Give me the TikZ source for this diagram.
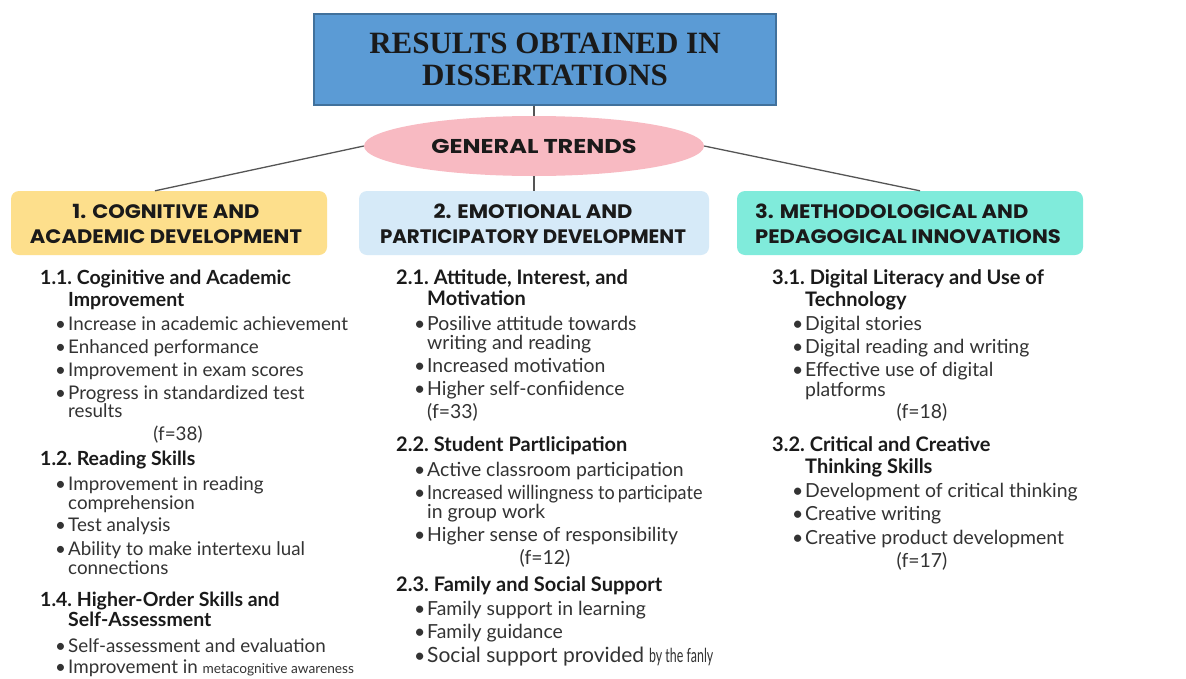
\documentclass[tikz,border=0pt]{standalone}
\usepackage{fontspec}
\setmainfont{Lato}
\newfontfamily\titlefont{Liberation Serif}
\newfontfamily\trendfont[FakeStretch=1.2]{Poppins}
\newfontfamily\catfont[FakeStretch=1.08]{Poppins}
\usetikzlibrary{shapes.geometric}
\definecolor{titleblue}{HTML}{5B9BD5}
\definecolor{titleedge}{HTML}{41719C}
\definecolor{trendpink}{HTML}{F8BAC2}
\definecolor{boxyellow}{HTML}{FDDF8C}
\definecolor{boxblue}{HTML}{D6EAF8}
\definecolor{boxteal}{HTML}{80EBDB}
\definecolor{linkgray}{HTML}{555555}
\definecolor{bodytext}{HTML}{333333}
\definecolor{headtext}{HTML}{1A1A1A}
\tikzset{
  x=1pt, y=-1pt,
  link/.style={draw=linkgray, line width=1.3pt},
  catbox/.style={rounded corners=8pt, minimum height=64pt, inner sep=0pt},
  cattext/.style={font=\catfont\bfseries\fontsize{19.5}{25}\selectfont, text=headtext, align=center},
  txt/.style={anchor=west, inner sep=0pt, text height=12pt, text depth=3pt, text=bodytext, font=\fontsize{19.4}{20}\selectfont},
  subhead/.style={txt, text=headtext, font=\bfseries\fontsize{20}{20}\selectfont},
  freq/.style={anchor=center, inner sep=0pt, text height=12pt, text depth=3pt, text=bodytext, font=\fontsize{19.4}{20}\selectfont},
  % the first column is set a little smaller
  txtA/.style={txt, font=\fontsize{18.8}{20}\selectfont},
  subheadA/.style={subhead, font=\bfseries\fontsize{19.5}{20}\selectfont},
  freqA/.style={freq, font=\fontsize{18.8}{20}\selectfont},
}
% one line of body text: name, x, y, text
\newcommand\tline[4]{\node[txt] (#1) at (#2,#3) {#4};}
\newcommand\shline[4]{\node[subhead] (#1) at (#2,#3) {#4};}
\newcommand\tlineA[4]{\node[txtA] (#1) at (#2,#3) {#4};}
\newcommand\shlineA[4]{\node[subheadA] (#1) at (#2,#3) {#4};}
\newcommand\bul{\makebox[13pt][l]{\textbullet}}
\newcommand\narrow[2]{\scalebox{#1}[1]{#2}}
\begin{document}
\begin{tikzpicture}
\useasboundingbox (0,0) rectangle (1186,678);
\fill[white] (0,0) rectangle (1186,678);

% title and general trends
\node[draw=titleedge, line width=1.2pt, fill=titleblue, minimum width=462pt, minimum height=91pt, inner sep=0pt,
      font=\titlefont\bfseries\fontsize{31}{32}\selectfont, align=center, text=headtext] (title) at (545,59.5)
  {RESULTS OBTAINED IN\\DISSERTATIONS};
\node[ellipse, fill=trendpink, minimum width=340pt, minimum height=60pt, inner sep=0pt,
      font=\trendfont\bfseries\fontsize{20}{20}\selectfont, text=headtext] (trends) at (534,146) {GENERAL TRENDS};

% three categories
\node[catbox, fill=boxyellow, minimum width=316pt] (cat1) at (169,223) {};
\node[catbox, fill=boxblue, minimum width=350pt] (cat2) at (534,223) {};
\node[catbox, fill=boxteal, minimum width=346pt] (cat3) at (910,223) {};
\node[cattext] (cat1t) at (166,224) {1. COGNITIVE AND\\ACADEMIC DEVELOPMENT};
\node[cattext] (cat2t) at (533,224) {2. EMOTIONAL AND\\\narrow{0.94}{PARTICIPATORY DEVELOPMENT}};
\node[cattext, align=left] (cat3t) at (908,224) {3. METHODOLOGICAL AND\\PEDAGOGICAL INNOVATIONS};

% connectors
\draw[link] (title.south -| trends.north) -- (trends.north);
\draw[link] (trends.south) -- (cat2.north);
\draw[link] (trends.west) -- (cat1.north -| 155,0);
\draw[link] (trends.east) -- (cat3.north -| 920,0);

% column 1
\shlineA{a1}{40}{280}{1.1.\ Coginitive and Academic}
\shlineA{a2}{68}{302}{Improvement}
\tlineA{a3}{55}{326}{\bul Increase in academic achievement}
\tlineA{a4}{55}{349}{\bul Enhanced performance}
\tlineA{a5}{55}{372}{\bul Improvement in exam scores}
\tlineA{a6}{55}{395}{\bul Progress in standardized test}
\tlineA{a7}{68}{413}{results}
\node[freqA] (a8) at (178,436) {(f=38)};
\shlineA{a9}{40}{461}{1.2.\ Reading Skills}
\tlineA{a10}{55}{486}{\bul Improvement in reading}
\tlineA{a11}{68}{505}{comprehension}
\tlineA{a12}{55}{527}{\bul Test analysis}
\tlineA{a13}{55}{551}{\bul Ability to make intertexu lual}
\tlineA{a14}{68}{570}{connections}
\shlineA{a15}{40}{602}{1.4.\ Higher-Order Skills and}
\shlineA{a16}{68}{622}{Self-Assessment}
\tlineA{a17}{55}{648}{\bul Self-assessment and evaluation}
\tlineA{a18}{55}{669}{\bul Improvement in {\fontsize{13.7}{14}\selectfont metacognitive awareness}}

% column 2
\shline{b1}{396}{280}{2.1.\ Attitude, Interest, and}
\shline{b2}{427}{301}{Motivation}
\tline{b3}{414}{326}{\bul Posilive attitude towards}
\tline{b4}{427}{345}{writing and reading}
\tline{b5}{414}{368}{\bul Increased motivation}
\tline{b6}{414}{391}{\bul Higher self-confiidence}
\tline{b7}{427}{414}{(f=33)}
\shline{b8}{396}{447}{2.2.\ Student Partlicipation}
\tline{b9}{414}{472}{\bul Active classroom participation}
\tline{b10}{414}{495}{\bul \narrow{0.93}{Increased willingness to\,participate}}
\tline{b11}{427}{514}{in group work}
\tline{b12}{414}{537}{\bul Higher sense of responsibility}
\node[freq] (b13) at (545,560) {(f=12)};
\shline{b14}{396}{587}{2.3.\ Family and Social Support}
\tline{b15}{414}{611}{\bul Family support in learning}
\tline{b16}{414}{634}{\bul Family guidance}
\tline{b17}{414}{658}{\bul {\fontsize{21}{20}\selectfont Social support provided} \narrow{0.64}{by the fanly}}

% column 3
\shline{c1}{772}{280}{3.1.\ Digital Literacy and Use of}
\shline{c2}{805}{302}{Technology}
\tline{c3}{792}{326}{\bul Digital stories}
\tline{c4}{792}{349}{\bul Digital reading and writing}
\tline{c5}{792}{372}{\bul Effective use of digital}
\tline{c6}{805}{392}{platforms}
\node[freq] (c7) at (922,414) {(f=18)};
\shline{c8}{772}{447}{3.2.\ Critical and Creative}
\shline{c9}{805}{469}{Thinking Skills}
\tline{c10}{792}{493}{\bul Development of critical thinking}
\tline{c11}{792}{516}{\bul Creative writing}
\tline{c12}{792}{540}{\bul Creative product development}
\node[freq] (c13) at (922,563) {(f=17)};
\end{tikzpicture}
\end{document}
